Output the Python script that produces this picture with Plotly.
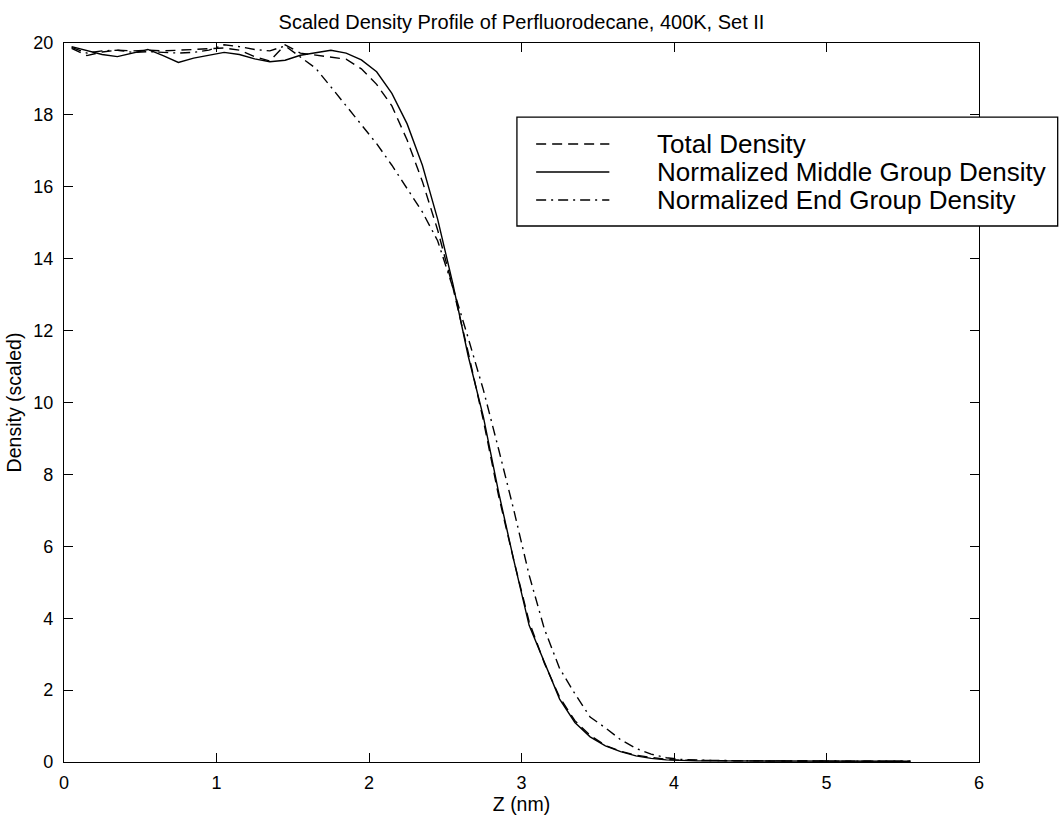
import plotly.graph_objects as go

# Z positions of the density bins (nm)
z_nm = [0.05, 0.15, 0.25, 0.35, 0.45, 0.55, 0.65, 0.75, 0.85, 0.95,
        1.05, 1.15, 1.25, 1.35, 1.45, 1.55, 1.65, 1.75, 1.85, 1.95,
        2.05, 2.15, 2.25, 2.35, 2.45, 2.55, 2.65, 2.75, 2.85, 2.95,
        3.05, 3.15, 3.25, 3.35, 3.45, 3.55, 3.65, 3.75, 3.85, 3.95,
        4.05, 4.15, 4.25, 4.35, 4.45, 4.55, 4.65, 4.75, 4.85, 4.95,
        5.05, 5.15, 5.25, 5.35, 5.45, 5.55]

total_density = [19.85, 19.65, 19.75, 19.80, 19.78, 19.80, 19.78, 19.80, 19.82, 19.84,
                 19.86, 19.80, 19.62, 19.50, 19.95, 19.72, 19.67, 19.62, 19.55, 19.28,
                 18.85, 18.25, 17.30, 16.15, 14.80, 13.20, 11.40, 9.50, 7.40, 5.60,
                 3.90, 2.75, 1.80, 1.15, 0.74, 0.46, 0.30, 0.19, 0.12, 0.07,
                 0.05, 0.04, 0.03, 0.03, 0.03, 0.03, 0.03, 0.02, 0.02, 0.02,
                 0.02, 0.02, 0.02, 0.02, 0.02, 0.02]

middle_density = [19.90, 19.78, 19.68, 19.62, 19.72, 19.82, 19.65, 19.46, 19.58, 19.66,
                  19.74, 19.68, 19.56, 19.48, 19.52, 19.66, 19.72, 19.80, 19.72, 19.53,
                  19.20, 18.60, 17.75, 16.60, 15.10, 13.30, 11.30, 9.60, 7.50, 5.60,
                  3.80, 2.75, 1.75, 1.10, 0.70, 0.45, 0.29, 0.17, 0.10, 0.06,
                  0.04, 0.03, 0.03, 0.03, 0.02, 0.02, 0.02, 0.02, 0.02, 0.02,
                  0.02, 0.02, 0.02, 0.02, 0.02, 0.02]

end_density = [19.88, 19.72, 19.78, 19.80, 19.74, 19.76, 19.74, 19.72, 19.74, 19.80,
               19.95, 19.90, 19.82, 19.78, 19.92, 19.62, 19.30, 18.78, 18.25, 17.70,
               17.20, 16.60, 15.95, 15.30, 14.50, 13.20, 11.80, 10.35, 8.70, 7.00,
               5.20, 3.70, 2.60, 1.90, 1.25, 0.95, 0.62, 0.38, 0.22, 0.12,
               0.07, 0.05, 0.04, 0.04, 0.03, 0.03, 0.03, 0.03, 0.03, 0.02,
               0.02, 0.02, 0.02, 0.02, 0.02, 0.02]

series_names = ["Total Density",
                "Normalized Middle Group Density",
                "Normalized End Group Density"]
series_dash = ["10px,6px", "solid", "10px,5px,2px,5px"]

x_ticks = [0, 1, 2, 3, 4, 5, 6]
y_ticks = [0, 2, 4, 6, 8, 10, 12, 14, 16, 18, 20]

FONT = "Arial, Liberation Sans, Helvetica, sans-serif"

fig = go.Figure()
for name, ys, dash in zip(series_names,
                          [total_density, middle_density, end_density],
                          series_dash):
    fig.add_trace(go.Scatter(x=z_nm, y=ys, mode="lines", name=name,
                             line=dict(color="black", width=1.4, dash=dash),
                             showlegend=False))

axis_common = dict(showline=True, linecolor="black", linewidth=1.3,
                   mirror="ticks", ticks="inside", ticklen=9, tickwidth=1.2,
                   tickcolor="black", showgrid=False, zeroline=False,
                   tickfont=dict(family=FONT, size=18, color="black"))

fig.update_xaxes(range=[0, 6], tickvals=x_ticks, ticktext=[str(v) for v in x_ticks],
                 ticklabelstandoff=4,
                 title=dict(text="Z (nm)", font=dict(family=FONT, size=19.5, color="black"),
                            standoff=2),
                 **axis_common)
fig.update_yaxes(range=[0, 20], tickvals=y_ticks, ticktext=[str(v) for v in y_ticks],
                 ticklabelstandoff=6,
                 title=dict(text="Density (scaled)", font=dict(family=FONT, size=19.5, color="black"),
                            standoff=6),
                 **axis_common)

# legend box drawn in paper coordinates, extending past the right axis
box = dict(x0=0.495, x1=1.086, y0=0.7455, y1=0.897)
fig.add_shape(type="rect", xref="paper", yref="paper", **box,
              line=dict(color="black", width=1.3), fillcolor="white", layer="above")
row_y = [0.8595, 0.8206, 0.7816]
for name, dash, yy in zip(series_names, series_dash, row_y):
    fig.add_shape(type="line", xref="paper", yref="paper",
                  x0=0.516, x1=0.596, y0=yy, y1=yy,
                  line=dict(color="black", width=1.4, dash=dash), layer="above")
    fig.add_annotation(x=0.646, y=yy, xref="paper", yref="paper", text=name,
                       showarrow=False, xanchor="left", yanchor="middle",
                       font=dict(family=FONT, size=26, color="black"))

fig.update_layout(
    width=1062, height=821,
    margin=dict(l=64, r=83, t=43, b=59),
    paper_bgcolor="white", plot_bgcolor="white",
    title=dict(text="Scaled Density Profile of Perfluorodecane, 400K, Set II",
               x=(64 + 979) / 2 / 1062, xanchor="center", y=1 - 22 / 821, yanchor="middle",
               font=dict(family=FONT, size=20, color="black")),
)

fig.write_html("out.html")
